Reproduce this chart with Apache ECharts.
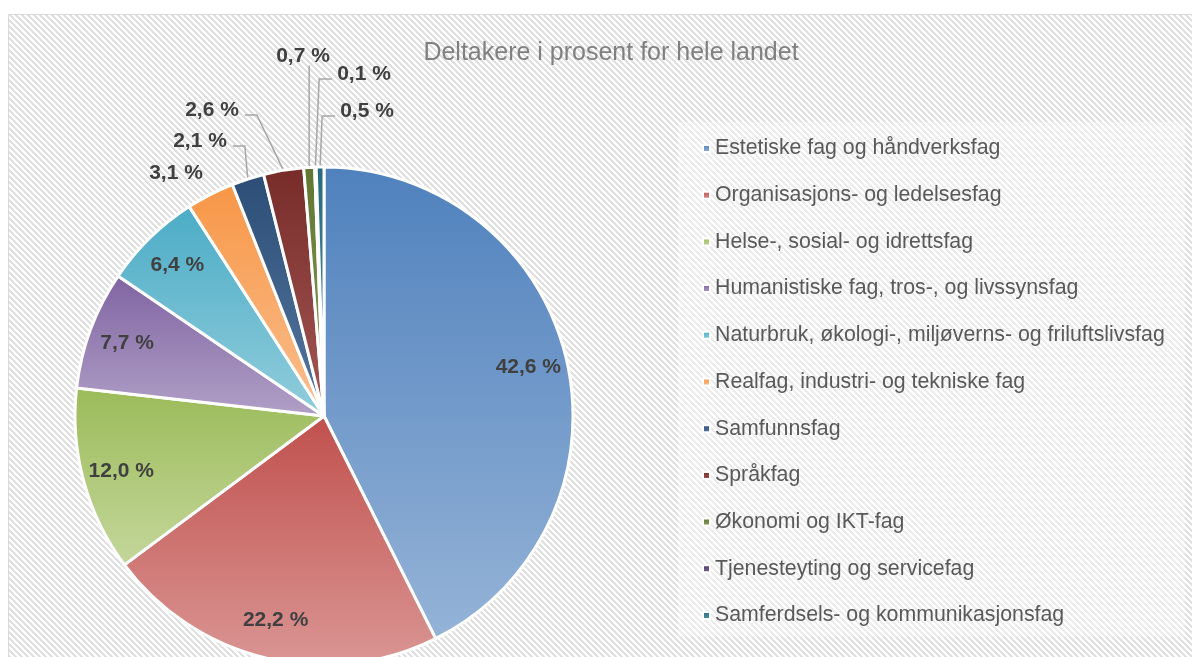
<!DOCTYPE html>
<html>
<head>
<meta charset="utf-8">
<script src="https://cdn.jsdelivr.net/npm/echarts@6/dist/echarts.min.js"></script>
<style>
  html, body { margin: 0; padding: 0; background: #fff; }
  #chart { width: 1192px; height: 657px; }
</style>
</head>
<body>
<div id="chart"></div>
<script>
// fagområder og andel deltakere (prosent)
const fagNavn = [
  'Estetiske fag og håndverksfag',
  'Organisasjons- og ledelsesfag',
  'Helse-, sosial- og idrettsfag',
  'Humanistiske fag, tros-, og livssynsfag',
  'Naturbruk, økologi-, miljøverns- og friluftslivsfag',
  'Realfag, industri- og tekniske fag',
  'Samfunnsfag',
  'Språkfag',
  'Økonomi og IKT-fag',
  'Tjenesteyting og servicefag',
  'Samferdsels- og kommunikasjonsfag'
]
const andel = [42.6, 22.2, 12.0, 7.7, 6.4, 3.1, 2.1, 2.6, 0.7, 0.1, 0.5]
const tittel = 'Deltakere i prosent for hele landet'

// farger (mørk øverst, lysere nederst)
const morkeFarger = ['#4F81BD', '#C0504D', '#9BBB59', '#8064A2', '#4BACC6', '#F79646', '#2C4D75', '#772C2A', '#5F7530', '#4D3B62', '#276A7C']
const lyseFarger = ['#95B3D7', '#DA9694', '#C4D79B', '#B1A0C7', '#92CDDC', '#FABF8F', '#56779F', '#A35855', '#8AA05C', '#78678F', '#5297A9']

// plassering av etikettene for de små sektorene (utenfor kaken), og hvor linja går ut
const etikettPlass = { 5: [176, 173], 6: [200, 141], 7: [212, 110], 8: [303, 56], 9: [364, 74], 10: [367, 111] }
const linjeSide = { 6: 'right', 7: 'right', 8: 'bottom', 9: 'left', 10: 'left' }

const sentrum = [324, 416]
const radius = 249
const font = 'Liberation Sans, Arial, sans-serif'
const fmt = (p) => p.value.toFixed(1).replace('.', ',') + ' %'

const grad = (i) => new echarts.graphic.LinearGradient(0, 0, 0, 1, [
  { offset: 0, color: morkeFarger[i] },
  { offset: 1, color: lyseFarger[i] }
])

// punkt midt på buen til sektor i
const buePunkt = (i) => {
  let sum = 0
  for (let k = 0; k < i; k++) sum += andel[k]
  const tot = andel.reduce((a, b) => a + b, 0)
  const vinkel = (sum + andel[i] / 2) / tot * Math.PI * 2
  return [sentrum[0] + radius * Math.sin(vinkel), sentrum[1] - radius * Math.cos(vinkel)]
}

// skravert bakgrunn
const tile = document.createElement('canvas')
tile.width = 6
tile.height = 6
const tc = tile.getContext('2d')
tc.fillStyle = '#ffffff'
tc.fillRect(0, 0, 6, 6)
tc.fillStyle = '#e0e0e0'
for (let y = 0; y < 6; y++) {
  for (let x = 0; x < 6; x++) {
    if ((((x - y) % 6) + 6) % 6 < 3) tc.fillRect(x, y, 1, 1)
  }
}

const myChart = echarts.init(document.getElementById('chart'))

const option = {
  backgroundColor: '#ffffff',
  animation: false,
  title: {
    text: tittel,
    left: 606,
    top: 36,
    textAlign: 'center',
    textStyle: { fontFamily: font, fontSize: 25, fontWeight: 'normal', color: '#808080' }
  },
  graphic: [
    {
      type: 'rect',
      silent: true,
      z: -10,
      shape: { x: 8.5, y: 14.5, width: 1300, height: 700 },
      style: { fill: { image: tile, repeat: 'repeat' }, stroke: '#d9d9d9', lineWidth: 1 }
    },
    {
      type: 'rect',
      silent: true,
      z: -5,
      shape: { x: 678, y: 122, width: 507, height: 515 },
      style: { fill: 'rgba(255,255,255,0.38)' }
    }
  ],
  legend: {
    orient: 'vertical',
    left: 702,
    top: 138,
    padding: 0,
    icon: 'rect',
    itemWidth: 7,
    itemHeight: 7,
    itemGap: 25.7,
    data: fagNavn,
    textStyle: { fontFamily: font, fontSize: 21.3, lineHeight: 21, color: '#595959' }
  },
  series: [
    {
      type: 'pie',
      center: sentrum,
      radius: radius,
      startAngle: 90,
      clockwise: true,
      avoidLabelOverlap: false,
      itemStyle: { borderColor: '#ffffff', borderWidth: 3 },
      emphasis: { disabled: true },
      label: {
        position: 'outside',
        formatter: fmt,
        fontFamily: font,
        fontSize: 21,
        fontWeight: 'bold',
        color: '#404040'
      },
      labelLine: { length: 10, length2: 12, lineStyle: { color: '#a6a6a6', width: 1.5 } },
      labelLayout: (p) => {
        const i = p.dataIndex
        const s = etikettPlass[i]
        if (!s) return {}
        const res = { x: s[0], y: s[1], align: 'center', verticalAlign: 'middle' }
        const side = linjeSide[i]
        if (side) {
          const w = p.labelRect.width
          const h = p.labelRect.height
          const b = buePunkt(i)
          let p0, p1
          if (side === 'right') {
            p0 = [s[0] + w / 2 + 6, s[1] + 5]
            p1 = [p0[0] + 12, p0[1]]
          } else if (side === 'left') {
            p0 = [s[0] - w / 2 - 5, s[1] + 5]
            p1 = [p0[0] - 13, p0[1]]
          } else {
            p0 = [b[0], s[1] + h / 2 - 1]
            p1 = [b[0], (p0[1] + b[1]) / 2]
          }
          res.labelLinePoints = [b, p1, p0]
        }
        return res
      },
      data: fagNavn.map((n, i) => ({
        name: n,
        value: andel[i],
        itemStyle: { color: grad(i) },
        label: { show: i >= 5 },
        labelLine: { show: i > 5 }
      }))
    },
    {
      // bare for etikettene inne i de store sektorene
      type: 'pie',
      center: sentrum,
      radius: [165, radius],
      startAngle: 90,
      clockwise: true,
      silent: true,
      z: 3,
      avoidLabelOverlap: false,
      itemStyle: { color: 'rgba(0,0,0,0)', borderWidth: 0 },
      emphasis: { disabled: true },
      labelLine: { show: false },
      label: {
        position: 'inside',
        formatter: fmt,
        fontFamily: font,
        fontSize: 21,
        fontWeight: 'bold',
        color: '#404040'
      },
      data: fagNavn.map((n, i) => ({
        name: n,
        value: andel[i],
        label: { show: i < 5 }
      }))
    }
  ]
}

myChart.setOption(option)
</script>
</body>
</html>
